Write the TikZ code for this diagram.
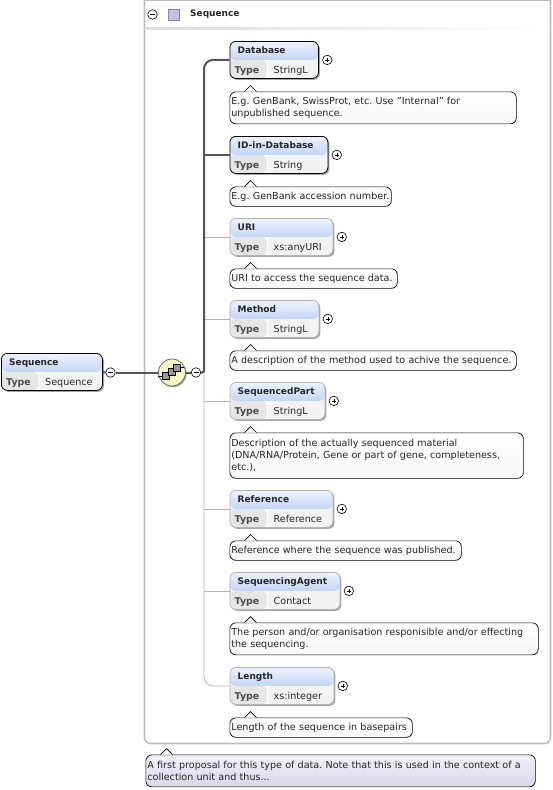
\documentclass[tikz,border=0pt]{standalone}
\usepackage{fontspec}
\setmainfont{DejaVu Sans}
\usetikzlibrary{positioning,shadows}

\definecolor{headtop}{HTML}{EEF3FC}
\definecolor{headbot}{HTML}{C3D5F5}
\definecolor{typecell}{HTML}{E6E6E6}
\definecolor{valcell}{HTML}{F3F3F3}
\definecolor{darkline}{HTML}{555555}
\definecolor{paleline}{HTML}{B4B4B4}
\definecolor{framegray}{HTML}{BDBDBD}
\definecolor{compfill}{HTML}{FBF6C6}
\definecolor{lavtop}{HTML}{F3F1F9}
\definecolor{lavbot}{HTML}{DAD6EA}
\definecolor{squarefill}{HTML}{C9BDE6}

% element box with title row and type row
\newcommand{\elembox}[6][reqbox]{
  \node[#1,minimum width=#4pt] (#2) at (#3) {};
  \node[boxtext,font=\fontsize{9}{11}\selectfont\bfseries,anchor=base west] (#2-title) at ([xshift=8pt,yshift=-12.5pt]#2.north west) {#5};
  \node[boxtext,font=\fontsize{9.4}{11}\selectfont\bfseries,text=black!70,anchor=base west] (#2-type) at ([xshift=5pt,yshift=-32pt]#2.north west) {Type};
  \node[boxtext,anchor=base west] (#2-value) at ([xshift=44pt,yshift=-32pt]#2.north west) {#6};
}
% annotation with a small tip above it
\newcommand{\notebox}[6][notestyle]{
  \node[#1,minimum width=#4pt,minimum height=#5pt,text width=#4pt-3pt] (#2) at (#3) {#6};
  \draw[black,fill=white,line width=0.7pt] ([xshift=15pt]#2.north west) -- ++(6,-6) -- ++(6,6);
}

\begin{document}
\begin{tikzpicture}[
  x=1pt,y=-1pt,
  reqbox/.style={draw=black,line width=0.8pt,anchor=north west,rounded corners=6pt,minimum height=37pt,inner sep=0pt,
    drop shadow={shadow xshift=1.5pt,shadow yshift=-1.5pt,opacity=0.35,fill=black},
    path picture={
      \fill[valcell] (path picture bounding box.north west) rectangle (path picture bounding box.south east);
      \fill[typecell] (path picture bounding box.west) rectangle ([xshift=37pt]path picture bounding box.south west);
      \fill[white] ([xshift=37pt]path picture bounding box.west) rectangle ([xshift=38pt]path picture bounding box.south west);
      \shade[top color=headtop,bottom color=headbot] (path picture bounding box.north west) rectangle (path picture bounding box.east);
    }},
  optbox/.style={reqbox,draw=paleline},
  boxtext/.style={inner sep=0pt,font=\fontsize{9.6}{11}\selectfont,text=black!85},
  notestyle/.style={draw=black,line width=0.7pt,anchor=north west,rounded corners=6pt,top color=white,bottom color=white!97!black,
    align=left,inner sep=1.5pt,font=\fontsize{9.6}{12}\selectfont\frenchspacing,text=black!85},
  docnote/.style={notestyle,top color=lavtop,bottom color=lavbot},
  plusbtn/.style={circle,draw=black,fill=white,line width=0.6pt,minimum size=9.5pt,inner sep=0pt,
    path picture={
      \draw[line width=0.5pt] ([xshift=-2pt]path picture bounding box.center) -- ([xshift=2pt]path picture bounding box.center);
      \draw[line width=0.5pt] ([yshift=-2pt]path picture bounding box.center) -- ([yshift=2pt]path picture bounding box.center);
    }},
  minusbtn/.style={circle,draw=black,fill=white,line width=0.6pt,minimum size=9.5pt,inner sep=0pt,
    path picture={
      \draw[line width=0.5pt] ([xshift=-2.5pt]path picture bounding box.center) -- ([xshift=2.5pt]path picture bounding box.center);
    }},
  heavyline/.style={draw=darkline,line width=2pt},
  thinline/.style={draw=paleline,line width=0.8pt},
  iconsquare/.style={draw=black,fill=black!40,line width=0.5pt,minimum size=7pt,inner sep=0pt}
]
\useasboundingbox (0,0) rectangle (553,790);

% group frame
\draw[framegray,line width=1.6pt,rounded corners=6pt] (144.5,-10) -- (144.5,743.5) -- (550.5,743.5) -- (550.5,-10);
\draw[framegray,line width=1pt] (144.5,0.5) -- (550.5,0.5);
\shade[left color=black!14,right color=white] (145.5,27) rectangle (549.5,29.5);
\node[minusbtn] (groupminus) at (152.5,14.5) {};
\node[draw=squarefill!70!black,fill=squarefill,minimum size=11pt,inner sep=0pt] (groupicon) at (173.5,14.5) {};
\node[boxtext,font=\fontsize{9}{11}\selectfont\bfseries,anchor=west] (grouptitle) at (190,14.5) {Sequence};

% elements
\elembox{seqroot}{1,353}{101}{Sequence}{Sequence}
\elembox{database}{229.5,41}{88.5}{Database}{StringL}
\elembox{idindb}{229.5,136}{98}{ID-in-Database}{String}
\elembox[optbox]{uri}{229.5,218}{103}{URI}{xs:anyURI}
\elembox[optbox]{method}{229.5,300}{89}{Method}{StringL}
\elembox[optbox]{seqpart}{229.5,382}{95}{SequencedPart}{StringL}
\elembox[optbox]{reference}{229.5,490}{103}{Reference}{Reference}
\elembox[optbox]{agent}{229.5,572}{110}{SequencingAgent}{Contact}
\elembox[optbox]{length}{229.5,667}{104}{Length}{xs:integer}

% compositor
\node[circle,draw=black!60,fill=compfill,line width=0.8pt,minimum size=27pt,inner sep=0pt,
  drop shadow={shadow xshift=1.2pt,shadow yshift=-1.2pt,opacity=0.35,fill=black}] (compositor) at (172,372.5) {};
\node[iconsquare] (iconlow) at (166,376) {};
\node[iconsquare] (iconmid) at (171.5,372) {};
\node[iconsquare] (iconhigh) at (176.5,367.5) {};
\node[minusbtn] (rootminus) at (110.5,372.5) {};
\node[minusbtn] (compminus) at (196,372.5) {};

% expand buttons
\node[plusbtn] (database-plus) at ([xshift=8.5pt]database.east) {};
\node[plusbtn] (idindb-plus) at ([xshift=8.5pt]idindb.east) {};
\node[plusbtn] (uri-plus) at ([xshift=8.5pt]uri.east) {};
\node[plusbtn] (method-plus) at ([xshift=8.5pt]method.east) {};
\node[plusbtn] (seqpart-plus) at ([xshift=8.5pt]seqpart.east) {};
\node[plusbtn] (reference-plus) at ([xshift=8.5pt]reference.east) {};
\node[plusbtn] (agent-plus) at ([xshift=8.5pt]agent.east) {};
\node[plusbtn] (length-plus) at ([xshift=8.5pt]length.east) {};

% connectors
\coordinate (trunk) at (204,372.5);
\draw[thinline] (trunk) -- (trunk |- uri.west) -- (uri.west);
\draw[thinline] (trunk |- method.west) -- (method.west);
\draw[thinline] (trunk |- seqpart.west) -- (seqpart.west);
\draw[thinline] (trunk |- reference.west) -- (reference.west);
\draw[thinline] (trunk |- agent.west) -- (agent.west);
\draw[thinline,rounded corners=9pt] (trunk) -- (trunk |- length.west) -- (length.west);
\draw[heavyline] (seqroot.east) -- (rootminus.west);
\draw[heavyline] (rootminus.east) -- (compositor.west);
\draw[heavyline,rounded corners=2pt] (compminus.east) -- (trunk) -- (trunk |- idindb.west);
\draw[heavyline] (trunk |- idindb.west) -- (idindb.west);
\draw[heavyline,rounded corners=9pt] (trunk |- idindb.west) -- (trunk |- database.west) -- (database.west);
\draw[heavyline] (compositor.east) -- (compminus.west);
\draw[black,line width=0.6pt] ([xshift=-4pt]iconlow.west) -- (iconlow.west) (iconhigh.east) -- ([xshift=4pt]iconhigh.east);

% notes
\notebox{databasenote}{229.5,91.5}{286.5}{32}{E.g. GenBank, SwissProt, etc. Use "Internal" for\\unpublished sequence.}
\notebox{idindbnote}{229.5,186.5}{161.5}{19.5}{E.g. GenBank accession number.}
\notebox{urinote}{229.5,268.5}{167.5}{19.5}{URI to access the sequence data.}
\notebox{methodnote}{229.5,350.5}{286.5}{19.5}{A description of the method used to achive the sequence.}
\notebox{seqpartnote}{229.5,432.5}{293.5}{45.5}{Description of the actually sequenced material\\(DNA/RNA/Protein, Gene or part of gene, completeness,\\etc.),}
\notebox{referencenote}{229.5,540.5}{231.5}{19.5}{Reference where the sequence was published.}
\notebox{agentnote}{229.5,622.5}{308.5}{32}{The person and/or organisation responisible and/or effecting\\the sequencing.}
\notebox{lengthnote}{229.5,717.5}{182.5}{19.5}{Length of the sequence in basepairs}
\notebox[docnote]{rootnote}{145.5,754.5}{389.5}{32}{A first proposal for this type of data. Note that this is used in the context of a\\collection unit and thus...}
\end{tikzpicture}
\end{document}
